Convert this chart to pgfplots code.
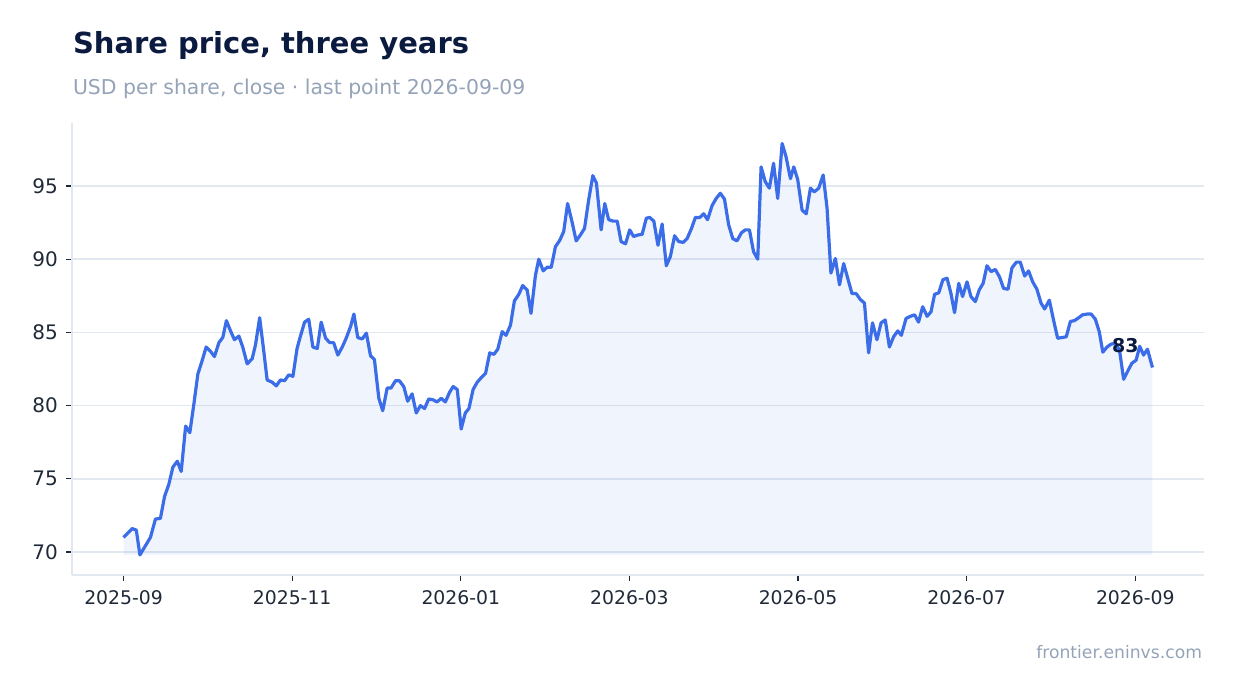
\documentclass[border=0pt]{standalone}
\usepackage{fontspec}
\setmainfont{DejaVu Sans}
\usepackage{pgfplots}
\usepackage{pgfplotstable}
\pgfplotsset{compat=1.18}
\usepgfplotslibrary{fillbetween}

\definecolor{lineblue}{HTML}{3B6DE8}
\definecolor{titlec}{HTML}{0B1A3F}
\definecolor{mutedc}{HTML}{94A3B8}
\definecolor{tickc}{HTML}{1F2937}
\definecolor{gridc}{HTML}{E2E8F0}

% day (from 2025-09-01), close in USD
\pgfplotstableread{
d p
0 71.0
3.1 71.6
4.6 71.5
5.9 69.8
9.7 71.0
11.5 72.25
13.3 72.3
14.8 73.8
16.3 74.6
17.8 75.8
19.4 76.2
20.8 75.5
22.4 78.6
23.9 78.15
25.4 80.15
26.8 82.15
28.4 83.1
29.8 84.0
31.4 83.7
32.8 83.35
34.4 84.3
35.8 84.65
37.1 85.8
38.6 85.1
40.0 84.5
41.6 84.75
43.0 84.0
44.6 82.85
46.4 83.2
47.6 84.15
49.1 86.0
50.6 83.7
51.8 81.75
53.6 81.6
55.1 81.35
56.6 81.75
58.1 81.7
59.6 82.1
61.1 82.0
62.6 83.9
63.6 84.6
65.3 85.7
66.8 85.9
68.3 84.0
69.9 83.9
71.3 85.7
72.9 84.6
74.4 84.3
75.8 84.3
77.3 83.45
78.9 84.0
80.3 84.6
81.9 85.4
83.1 86.25
84.5 84.65
86.1 84.55
87.6 84.95
89.1 83.4
90.5 83.15
92.1 80.5
93.5 79.65
95.1 81.2
96.5 81.2
98.1 81.7
99.5 81.7
101.1 81.3
102.5 80.3
104.1 80.8
105.6 79.5
107.1 80.0
108.6 79.8
110.1 80.45
111.6 80.4
113.1 80.25
114.6 80.5
116.1 80.25
117.6 80.9
118.9 81.3
120.4 81.1
121.8 78.4
123.3 79.5
124.6 79.8
126.1 81.1
127.6 81.6
129.0 81.9
130.6 82.2
132.1 83.6
133.6 83.5
135.0 83.85
136.6 85.05
138.0 84.8
139.6 85.5
141.0 87.15
142.6 87.6
144.0 88.2
145.6 87.9
147.0 86.3
148.6 88.9
149.8 90.0
151.4 89.2
152.8 89.45
154.3 89.45
155.8 90.85
157.4 91.3
158.8 91.9
160.2 93.8
161.8 92.55
163.3 91.25
164.8 91.65
166.3 92.1
167.8 94.05
169.3 95.7
170.6 95.2
172.3 92.0
173.6 93.8
175.0 92.7
176.6 92.6
178.1 92.6
179.5 91.2
181.1 91.05
182.6 92.0
184.0 91.55
185.5 91.65
187.1 91.7
188.6 92.8
189.8 92.85
191.3 92.6
192.8 90.95
194.3 92.4
195.8 89.55
197.3 90.2
198.8 91.6
200.3 91.2
201.9 91.15
203.3 91.4
204.9 92.1
206.3 92.85
207.9 92.85
209.3 93.1
210.7 92.7
212.3 93.65
213.8 94.15
215.3 94.5
216.8 94.1
218.3 92.35
219.8 91.4
221.3 91.25
222.9 91.8
224.3 92.0
225.8 92.0
227.3 90.5
228.8 90.0
230.0 96.3
231.5 95.3
233.0 94.85
234.5 96.55
236.0 94.15
237.6 97.9
239.0 97.0
240.6 95.5
241.8 96.3
243.2 95.45
244.8 93.35
246.3 93.1
247.8 94.85
249.2 94.6
250.8 94.85
252.4 95.75
253.8 93.5
255.2 89.05
256.8 90.05
258.3 88.25
259.8 89.7
261.4 88.6
262.8 87.65
264.3 87.65
265.8 87.25
267.3 87.0
268.8 83.6
270.2 85.65
271.8 84.5
273.3 85.65
274.8 85.85
276.3 84.0
277.8 84.7
279.3 85.1
280.6 84.8
282.3 85.95
283.9 86.1
285.4 86.2
286.8 85.7
288.3 86.75
289.9 86.1
291.3 86.4
292.6 87.6
294.1 87.7
295.6 88.6
297.1 88.7
298.5 87.65
299.8 86.35
301.3 88.35
302.7 87.45
304.3 88.45
305.7 87.45
307.3 87.1
308.7 87.9
310.1 88.35
311.5 89.55
313.0 89.15
314.5 89.3
316.0 88.8
317.5 88.0
319.1 87.95
320.5 89.4
322.1 89.8
323.5 89.8
325.1 88.85
326.5 89.2
328.0 88.45
329.5 87.95
331.0 87.0
332.3 86.6
334.0 87.2
335.5 85.85
337.0 84.6
338.6 84.65
340.1 84.7
341.6 85.75
343.0 85.8
344.6 86.0
346.0 86.2
347.6 86.25
349.1 86.25
350.6 85.9
352.0 85.05
353.3 83.65
354.8 84.0
356.3 84.2
357.8 84.25
359.3 83.8
360.8 81.8
362.4 82.4
363.8 82.9
365.3 83.1
366.6 84.05
368.0 83.45
369.4 83.85
371.2 82.6
}\pricedata

\begin{document}
\begin{tikzpicture}

\node[anchor=base west, inner sep=0, text=titlec, font=\fontsize{14.5}{17}\selectfont\bfseries]
  at (36.3pt,319.8pt) {Share price, three years};
\node[anchor=base west, inner sep=0, text=mutedc, font=\fontsize{10.2}{12}\selectfont]
  at (36.3pt,299.5pt) {USD per share, close · last point 2026-09-09};
\node[anchor=base east, inner sep=0, text=mutedc, font=\fontsize{8.6}{10}\selectfont]
  at (601.2pt,17.4pt) {frontier.eninvs.com};

\begin{axis}[
  at={(36pt,59pt)}, anchor=south west,
  scale only axis, width=566pt, height=226pt,
  set layers,
  xmin=-18.6, xmax=389.8,
  ymin=68.43, ymax=99.3,
  axis x line*=bottom, axis y line*=left,
  axis line style={-, draw=gridc, line width=0.75pt},
  xtick={0,60.83,121.67,182.5,243.33,304.17,365},
  xticklabels={2025-09,2025-11,2026-01,2026-03,2026-05,2026-07,2026-09},
  ytick={70,75,80,85,90,95},
  tick align=outside, major tick length=3pt,
  tick style={draw=tickc, line width=0.6pt},
  ticklabel style={text=tickc},
  xticklabel style={font=\fontsize{9.4}{10}\selectfont, yshift=-1pt},
  yticklabel style={font=\fontsize{10}{11}\selectfont, xshift=-0.6pt},
  /pgf/number format/assume math mode=true,
  ymajorgrids, major grid style={draw=gridc, line width=0.7pt},
  clip=false,
]
\addplot[draw=none, name path=base, forget plot] coordinates {(0,69.8) (371.2,69.8)};
\addplot[lineblue, line width=1.6pt, line join=round, name path=price] table[x=d, y=p] {\pricedata};
\addplot[lineblue, fill opacity=0.08, draw=none] fill between[of=price and base];
\node[text=titlec, font=\fontsize{9.5}{11}\selectfont\bfseries, xshift=-13.5pt, yshift=11pt]
  at (axis cs:371.2,82.6) {83};
\end{axis}

\path (0,0) rectangle (617pt,346.5pt);
\end{tikzpicture}
\end{document}
